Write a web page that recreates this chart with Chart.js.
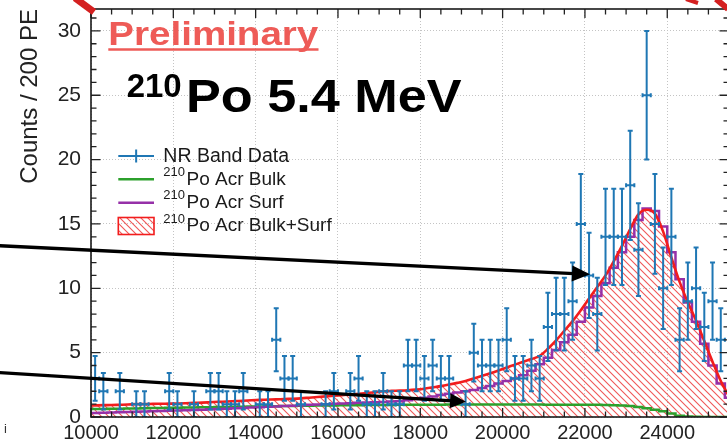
<!DOCTYPE html>
<html><head><meta charset="utf-8">
<script src="https://cdn.jsdelivr.net/npm/chart.js@4.4.1/dist/chart.umd.min.js"></script>
<style>
html,body{margin:0;padding:0;overflow:hidden;background:#fff;width:727px;height:446px;}
#wrap{position:absolute;left:0;top:0;width:740px;height:446px;}
canvas{display:block;}
</style></head><body>
<div id="wrap"><canvas id="c" width="740" height="446"></canvas></div>
<script>
// ---- data (bins of 200 PE) ----
const binWidth = 200;
const binCenters = [
  9900,10100,10300,10500,10700,10900,11100,11300,11500,11700,
  11900,12100,12300,12500,12700,12900,13100,13300,13500,13700,
  13900,14100,14300,14500,14700,14900,15100,15300,15500,15700,
  15900,16100,16300,16500,16700,16900,17100,17300,17500,17700,
  17900,18100,18300,18500,18700,18900,19100,19300,19500,19700,
  19900,20100,20300,20500,20700,20900,21100,21300,21500,21700,
  21900,22100,22300,22500,22700,22900,23100,23300,23500,23700,
  23900,24100,24300,24500,24700,24900,25100,25300,25500
];
const counts = [
  null,3,2,0,2,0,1,1,0,0,
  2,1,0,1,0,2,2,1,1,2,
  0,1,1,6,3,3,1,0,0,1,
  2,0,2,3,1,1,2,1,1,4,
  4,3,4,3,3,0,1,5,4,4,
  4,6,3,3,4,3,7,8,8,9,
  15,11,8,14,14,14,18,13,25,15,
  10,14,6,9,10,7,9,6,null
];
const bulkPlusSurf = [
  0.88,0.9,0.92,0.93,0.95,0.97,1.0,1.0,1.02,1.03,
  1.04,1.05,1.07,1.1,1.12,1.15,1.18,1.2,1.23,1.26,
  1.3,1.33,1.35,1.37,1.4,1.42,1.45,1.5,1.55,1.6,
  1.65,1.7,1.75,1.8,1.86,1.93,2.0,2.03,2.05,2.08,
  2.13,2.2,2.3,2.4,2.52,2.65,2.8,3.0,3.2,3.4,
  3.62,3.85,4.07,4.3,4.5,4.75,5.3,5.95,6.7,7.45,
  8.3,9.2,10.1,11.0,12.1,13.3,14.6,15.75,16.1,15.8,
  14.4,12.4,10.5,8.9,7.5,5.9,4.3,2.8,1.6
];
const surf = [
  0.32,0.32,0.33,0.35,0.36,0.38,0.4,0.42,0.44,0.46,
  0.48,0.5,0.52,0.55,0.57,0.6,0.62,0.65,0.68,0.7,
  0.73,0.76,0.79,0.82,0.85,0.88,0.92,0.95,0.98,1.0,
  1.03,1.05,1.07,1.1,1.12,1.15,1.17,1.2,1.22,1.3,
  1.4,1.5,1.6,1.7,1.8,1.9,2.0,2.1,2.25,2.4,
  2.6,2.8,3.0,3.25,3.6,4.1,4.6,5.2,5.8,6.4,
  7.4,8.5,9.4,10.4,11.6,12.8,14.0,15.3,16.2,16.0,
  14.8,12.8,10.7,8.9,7.4,5.7,4.0,2.6,1.5
];
const bulk = [
  0.6,0.62,0.63,0.64,0.65,0.66,0.67,0.68,0.69,0.7,
  0.71,0.72,0.73,0.74,0.75,0.76,0.77,0.78,0.79,0.8,
  0.81,0.82,0.83,0.84,0.85,0.86,0.87,0.88,0.89,0.9,
  0.9,0.91,0.92,0.92,0.93,0.93,0.94,0.94,0.95,0.95,
  0.95,0.96,0.96,0.96,0.97,0.97,0.97,0.97,0.97,0.97,
  0.97,0.97,0.97,0.97,0.97,0.97,0.96,0.96,0.96,0.96,
  0.95,0.95,0.95,0.94,0.92,0.9,0.85,0.78,0.68,0.57,
  0.45,0.28,0.1,0.03,0.01,0,0,0,0
];
const xTickValues = [10000,12000,14000,16000,18000,20000,22000,24000];
const yTickValues = [0,5,10,15,20,25,30];
const legendSup = ['', '210', '210', '210'];
const legendText = ['NR Band Data', 'Po Acr Bulk', 'Po Acr Surf', 'Po Acr Bulk+Surf'];
const titleSup = '210';
const titleMain = 'Po 5.4 MeV';
const prelimText = 'Preliminary';
const yTitle = 'Counts / 200 PE';

// ---- styles ----
const FONT = '"Liberation Sans", Arial, Helvetica, sans-serif';
const BLUE = '#1f77b4', GREEN = '#2ca02c', PURPLE = '#9630a8', RED = '#f21d1d';

function makeHatch(){
  const c = document.createElement('canvas'); c.width = 7; c.height = 7;
  const g = c.getContext('2d');
  g.strokeStyle = 'rgba(238,70,70,0.9)'; g.lineWidth = 1.1;
  g.beginPath();
  g.moveTo(-1,-1); g.lineTo(8,8);
  g.moveTo(-1,6); g.lineTo(1,8);
  g.moveTo(6,-1); g.lineTo(8,1);
  g.stroke();
  return document.getElementById('c').getContext('2d').createPattern(c, 'repeat');
}
const hatch = makeHatch();

const pts = arr => binCenters.map((x,i)=>({x, y: arr[i]}));

const errorBars = {
  id: 'errorBars',
  afterDatasetsDraw(chart){
    const {ctx, chartArea: a} = chart;
    const xs = chart.scales.x, ys = chart.scales.y;
    ctx.save();
    ctx.beginPath(); ctx.rect(a.left, a.top, a.right-a.left, a.bottom-a.top); ctx.clip();
    ctx.strokeStyle = BLUE; ctx.lineWidth = 2;
    chart.data.datasets[3].data.forEach(p => {
      if (!p || !(p.y > 0)) return;
      const e = Math.sqrt(p.y);
      const x = xs.getPixelForValue(p.x), y = ys.getPixelForValue(p.y);
      const yt = ys.getPixelForValue(p.y + e), yb = ys.getPixelForValue(p.y - e);
      const xl = xs.getPixelForValue(p.x - binWidth/2), xr = xs.getPixelForValue(p.x + binWidth/2);
      ctx.beginPath();
      ctx.moveTo(x, yt); ctx.lineTo(x, yb);
      ctx.moveTo(xl, y); ctx.lineTo(xr, y);
      ctx.moveTo(x-2.5, yt); ctx.lineTo(x+2.5, yt);
      ctx.moveTo(x-2.5, yb); ctx.lineTo(x+2.5, yb);
      ctx.moveTo(xl, y-2); ctx.lineTo(xl, y+2);
      ctx.moveTo(xr, y-2); ctx.lineTo(xr, y+2);
      ctx.stroke();
    });
    ctx.restore();
  }
};

function stretched(ctx, text, x, base, font, targetW, color){
  ctx.save();
  ctx.font = font;
  const w = ctx.measureText(text).width;
  ctx.translate(x, base);
  if (targetW) ctx.scale(targetW / w, 1);
  ctx.fillStyle = color; ctx.textBaseline = 'alphabetic'; ctx.textAlign = 'left';
  ctx.fillText(text, 0, 0);
  ctx.restore();
}

function arrow(ctx, x0, y0, x1, y1, hl, hw, lw){
  const ang = Math.atan2(y1-y0, x1-x0);
  const c = Math.cos(ang), s = Math.sin(ang);
  const bx = x1 - hl*c, by = y1 - hl*s;
  ctx.save();
  ctx.strokeStyle = '#000'; ctx.fillStyle = '#000'; ctx.lineWidth = lw;
  ctx.beginPath(); ctx.moveTo(x0, y0); ctx.lineTo(bx + 2*c, by + 2*s); ctx.stroke();
  ctx.beginPath(); ctx.moveTo(x1, y1);
  ctx.lineTo(bx - hw*s, by + hw*c); ctx.lineTo(bx + hw*s, by - hw*c); ctx.closePath(); ctx.fill();
  ctx.restore();
}

const decor = {
  id: 'decor',
  afterDraw(chart){
    const {ctx, chartArea: a} = chart;
    const xs = chart.scales.x, ys = chart.scales.y;
    // inward ticks
    ctx.save();
    ctx.strokeStyle = '#222'; ctx.lineWidth = 1.3;
    ctx.beginPath();
    for (let v = 0; v <= 31; v++){
      const y = ys.getPixelForValue(v), L = (v % 5 === 0) ? 9.5 : 5.5;
      ctx.moveTo(a.left, y); ctx.lineTo(a.left + L, y);
      ctx.moveTo(a.right, y); ctx.lineTo(a.right - L, y);
    }
    for (let v = 10000; v <= 25500; v += 500){
      const x = xs.getPixelForValue(v), L = (v % 2000 === 0) ? 9 : 5.5;
      ctx.moveTo(x, a.bottom); ctx.lineTo(x, a.bottom - L);
      ctx.moveTo(x, a.top); ctx.lineTo(x, a.top + L);
    }
    ctx.stroke();
    // frame
    ctx.lineWidth = 1.6; ctx.strokeStyle = '#1a1a1a';
    ctx.strokeRect(a.left, a.top, a.right - a.left, a.bottom - a.top);
    ctx.restore();

    // legend
    ctx.save();
    const rows = [156, 179.3, 202.7, 226];
    const sx0 = 118.3, sx1 = 154;
    ctx.lineWidth = 2;
    ctx.strokeStyle = BLUE;
    ctx.beginPath(); ctx.moveTo(sx0, rows[0]); ctx.lineTo(sx1, rows[0]);
    ctx.moveTo((sx0+sx1)/2, rows[0]-6.5); ctx.lineTo((sx0+sx1)/2, rows[0]+6.5); ctx.stroke();
    ctx.lineWidth = 2.5;
    ctx.strokeStyle = GREEN; ctx.beginPath(); ctx.moveTo(sx0, rows[1]); ctx.lineTo(sx1, rows[1]); ctx.stroke();
    ctx.strokeStyle = PURPLE; ctx.beginPath(); ctx.moveTo(sx0, rows[2]); ctx.lineTo(sx1, rows[2]); ctx.stroke();
    ctx.fillStyle = hatch; ctx.fillRect(sx0, rows[3]-8.5, sx1-sx0, 17);
    ctx.strokeStyle = RED; ctx.lineWidth = 1.6; ctx.strokeRect(sx0, rows[3]-8.5, sx1-sx0, 17);
    ctx.fillStyle = '#1a1a1a'; ctx.textBaseline = 'alphabetic';
    legendText.forEach((t, i) => {
      if (legendSup[i]) {
        ctx.font = '13px ' + FONT; ctx.fillText(legendSup[i], 163.3, rows[i] - 3.3);
        ctx.font = '19px ' + FONT; ctx.fillText(t, 186.5, rows[i] + 5.2);
      } else {
        ctx.font = '19.5px ' + FONT; ctx.fillText(t, 163.3, rows[i] + 5.7);
      }
    });
    ctx.restore();

    // titles
    stretched(ctx, prelimText, 108.3, 45, 'bold 32.5px ' + FONT, 210, '#ee5b57');
    ctx.save(); ctx.strokeStyle = '#ee5b57'; ctx.lineWidth = 2.6;
    ctx.beginPath(); ctx.moveTo(108.3, 49.5); ctx.lineTo(318.5, 49.5); ctx.stroke(); ctx.restore();
    stretched(ctx, titleSup, 126.7, 97.3, 'bold 33px ' + FONT, 55, '#000');
    stretched(ctx, titleMain, 186, 111.7, 'bold 46.5px ' + FONT, 275.7, '#000');

    // stray glyph at lower-left edge
    ctx.save(); ctx.fillStyle = '#333'; ctx.font = '13px ' + FONT; ctx.fillText('i', 4, 433); ctx.restore();

    // annotation arrows
    arrow(ctx, -5, 245.5, 590, 274.3, 18, 8, 3.3);
    arrow(ctx, -5, 372.4, 466, 401.7, 16, 7.5, 3.3);

    // red slide decorations at the top edge
    ctx.save(); ctx.strokeStyle = '#d42020'; ctx.lineCap = 'butt';
    ctx.lineWidth = 7; ctx.beginPath(); ctx.moveTo(75, -2); ctx.lineTo(94, 12); ctx.stroke();
    ctx.lineWidth = 4; ctx.beginPath(); ctx.moveTo(686, -1); ctx.lineTo(698, 3); ctx.stroke();
    ctx.lineWidth = 6; ctx.beginPath(); ctx.moveTo(716, -1); ctx.lineTo(728, 9); ctx.stroke();
    ctx.restore();
  }
};

new Chart(document.getElementById('c'), {
  type: 'line',
  data: {
    datasets: [
      { label: 'Po Acr Bulk+Surf', data: pts(bulkPlusSurf), borderColor: RED, borderWidth: 2.6,
        backgroundColor: hatch, fill: 'origin', pointRadius: 0, tension: 0.4,
        cubicInterpolationMode: 'monotone', order: 0 },
      { label: 'Po Acr Surf', data: pts(surf), borderColor: PURPLE, borderWidth: 2.5,
        stepped: 'middle', fill: false, pointRadius: 0, order: 1 },
      { label: 'Po Acr Bulk', data: pts(bulk), borderColor: GREEN, borderWidth: 2.5,
        stepped: 'middle', fill: false, pointRadius: 0, order: 2 },
      { label: 'NR Band Data', data: pts(counts), showLine: false, pointRadius: 0,
        borderColor: BLUE, backgroundColor: BLUE, order: 3 }
    ]
  },
  options: {
    responsive: false, animation: false, events: [],
    layout: { padding: { left: 0, top: 9, right: 11, bottom: 0 } },
    plugins: { legend: { display: false }, tooltip: { enabled: false },
               filler: { drawTime: 'beforeDatasetsDraw' } },
    scales: {
      x: {
        type: 'linear', min: 10000, max: 25500,
        afterBuildTicks: s => { s.ticks = xTickValues.map(v => ({ value: v })); },
        afterFit: s => { s.height = 29; s.paddingLeft = 0; s.paddingRight = 0; },
        ticks: { font: { family: FONT, size: 20 }, color: '#222', padding: 4,
                 maxRotation: 0, autoSkip: false, callback: v => String(v) },
        grid: { drawTicks: false, color: '#c4c4c4', lineWidth: 1 },
        border: { display: false, dash: [1, 2] }
      },
      y: {
        min: 0, max: 31.7,
        afterBuildTicks: s => { s.ticks = yTickValues.map(v => ({ value: v })); },
        afterFit: s => { s.width = 91; s.paddingTop = 0; s.paddingBottom = 0; },
        ticks: { font: { family: FONT, size: 21 }, color: '#222', padding: 10, callback: v => String(v) },
        grid: { drawTicks: false, color: '#c4c4c4', lineWidth: 1 },
        border: { display: false, dash: [1, 2] },
        title: { display: true, text: yTitle, align: 'end', color: '#222',
                 font: { family: FONT, size: 24 }, padding: { top: 16, bottom: 0 } }
      }
    }
  },
  plugins: [errorBars, decor]
});
</script>
</body></html>
